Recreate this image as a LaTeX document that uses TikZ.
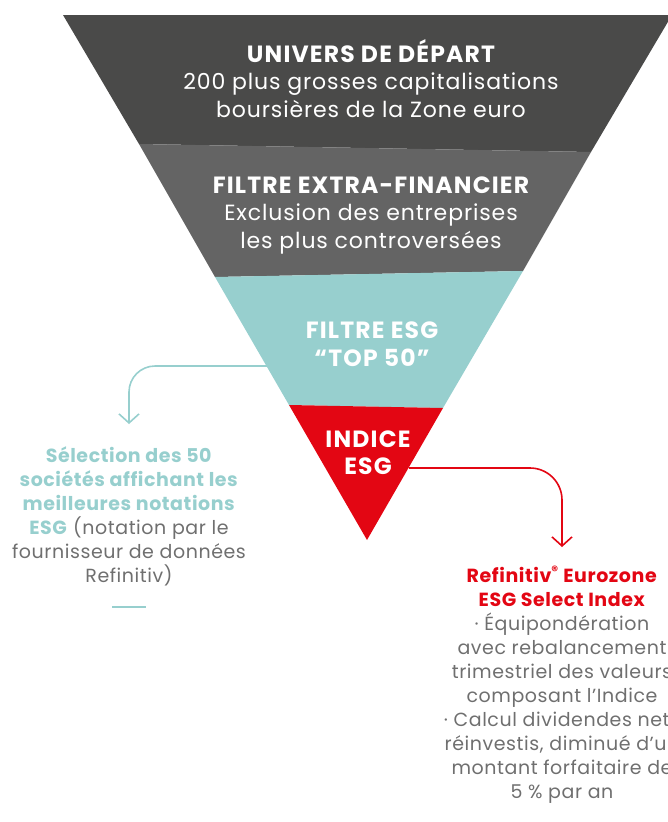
\documentclass[tikz,border=0pt]{standalone}
\usepackage{fontspec}
\setmainfont{Poppins}
\usetikzlibrary{arrows.meta}
\definecolor{darkband}{HTML}{4A4A49}
\definecolor{midband}{HTML}{646464}
\definecolor{tealband}{HTML}{97CFCE}
\definecolor{redband}{HTML}{E30613}
\definecolor{greytext}{HTML}{6F6F6F}
\newcommand{\hdr}[1]{{\fontsize{23.5}{27.5}\selectfont\bfseries\addfontfeatures{LetterSpace=5}#1}}
\tikzset{
  bandtext/.style={text=white, align=center, inner sep=0pt, anchor=base,
    font=\fontsize{22}{27.5}\selectfont\addfontfeatures{LetterSpace=4}},
  boldband/.style={text=white, align=center, inner sep=0pt, anchor=base,
    font=\fontsize{23.5}{28}\selectfont\bfseries\addfontfeatures{LetterSpace=5}},
  sidetext/.style={text=greytext, align=center, inner sep=0pt, anchor=base,
    font=\fontsize{19}{24}\selectfont\addfontfeatures{LetterSpace=3}},
  tealarrow/.style={draw=tealband, line width=1.6pt, rounded corners=26pt,
    -{Straight Barb[length=9pt, width=20pt, line width=1.6pt]}},
  redarrow/.style={draw=redband, line width=1.6pt, rounded corners=32pt,
    -{Straight Barb[length=9pt, width=20pt, line width=1.6pt]}}
}
\begin{document}
\begin{tikzpicture}[x=1pt, y=-1pt]
\useasboundingbox (0,0) rectangle (668,822);
\clip (0,0) rectangle (668,822);
% funnel bands
\fill[darkband] (63,15) -- (672,15) -- (591,152) -- (139,144) -- cycle;
\fill[midband] (139,144) -- (591,152) -- (523,271) -- (215,277) -- cycle;
\fill[tealband] (215,277) -- (523,271) -- (443,408) -- (289,405) -- cycle;
\fill[redband] (289,405) -- (443,408) -- (367,540) -- cycle;
% band texts (anchor = baseline of last line)
\node[bandtext] (univers) at (371,117) {\hdr{UNIVERS DE DÉPART}\\200 plus grosses capitalisations\\boursières de la Zone euro};
\node[bandtext] (extra) at (371,248) {\hdr{FILTRE EXTRA-FINANCIER}\\Exclusion des entreprises\\les plus controversées};
\node[boldband] (esgfilter) at (372,366) {FILTRE ESG\\“TOP 50”};
\node[boldband, font=\fontsize{23.5}{27}\selectfont\bfseries\addfontfeatures{LetterSpace=5}] (indice) at (368,474) {INDICE\\ESG};
% connectors
\coordinate (tealL) at (267,366);
\coordinate (leftTop) at (129,424);
\coordinate (redR) at (409,468);
\coordinate (rightTop) at (562,547);
\draw[tealarrow] (tealL) -| (leftTop);
\draw[redarrow] (redR) -| (rightTop);
% side texts
\node[sidetext] (selection) at (129,582) {\textcolor{tealband}{\textbf{Sélection des 50}}\\\textcolor{tealband}{\textbf{sociétés affichant les}}\\\textcolor{tealband}{\textbf{meilleures notations}}\\\textcolor{tealband}{\textbf{ESG}} (notation par le\\fournisseur de données\\Refinitiv)};
\coordinate (dashL) at (112,607);
\coordinate (dashR) at (146,607);
\draw[tealband, line width=2pt] (dashL) -- (dashR);
\node[sidetext] (refinitiv) at (562,798) {\textcolor{redband}{\textbf{Refinitiv\textsuperscript{®} Eurozone}}\\\textcolor{redband}{\textbf{ESG Select Index}}\\· Équipondération\\avec rebalancement\\trimestriel des valeurs\\composant l’Indice\\· Calcul dividendes nets\\réinvestis, diminué d’un\\montant forfaitaire de\\5 \% par an};
\end{tikzpicture}
\end{document}
